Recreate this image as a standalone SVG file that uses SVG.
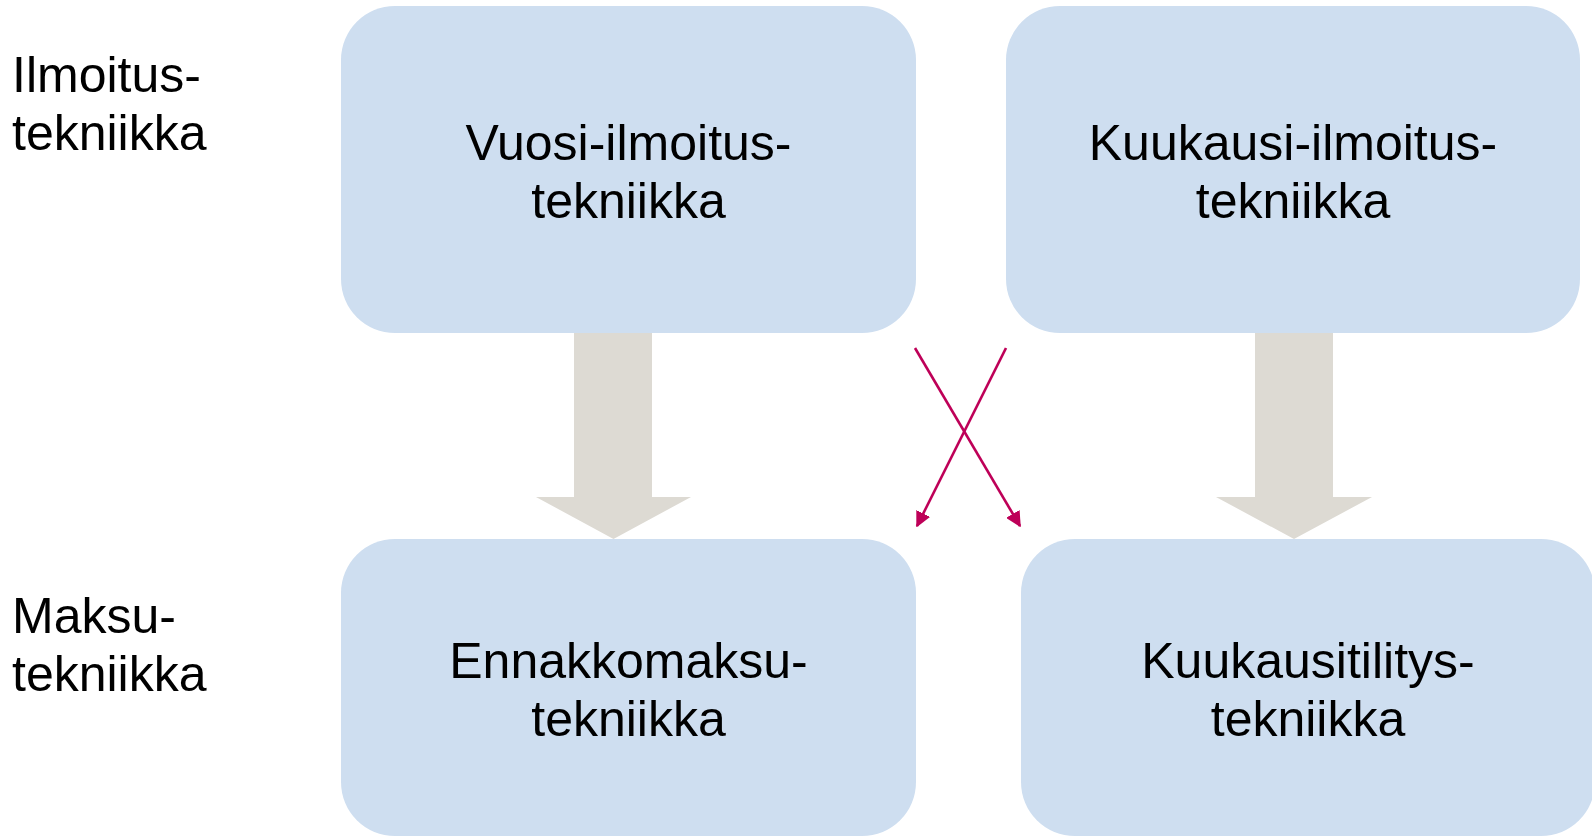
<svg xmlns="http://www.w3.org/2000/svg" width="1592" height="837" viewBox="0 0 1592 837">
<defs>
<style>
.box{fill:#CEDEF0;}
.t{font-family:"Liberation Sans",Arial,sans-serif;font-size:50px;fill:#000;}
.c{text-anchor:middle;}
.big{fill:#DDDAD3;}
.red{stroke:#BE0058;stroke-width:2.6;fill:none;}
</style>
<marker id="ah" viewBox="0 0 10 10" refX="9" refY="5" markerWidth="6" markerHeight="6" markerUnits="strokeWidth" orient="auto">
<path d="M0,0 L10,5 L0,10 z" fill="#BE0058"/>
</marker>
</defs>
<rect width="1592" height="837" fill="#FFFFFF"/>
<g id="labels">
<text class="t" x="12" y="92">Ilmoitus-</text>
<text class="t" x="12" y="150">tekniikka</text>
<text class="t" x="12" y="633">Maksu-</text>
<text class="t" x="12" y="691">tekniikka</text>
</g>
<g id="connectors">
<path class="big" d="M574,333 H652 V497 H691 L613.5,539 L536,497 H574 Z"/>
<path class="big" d="M1255,333 H1333 V497 H1372 L1294,539 L1216,497 H1255 Z"/>
<line class="red" x1="915" y1="348" x2="1020" y2="526" marker-end="url(#ah)"/>
<line class="red" x1="1006" y1="348" x2="917" y2="526" marker-end="url(#ah)"/>
</g>
<g id="node-vuosi">
<rect class="box" x="341" y="6" width="575" height="327" rx="54" ry="54"/>
<text class="t c" x="628.5" y="160">Vuosi-ilmoitus-</text>
<text class="t c" x="628.5" y="218">tekniikka</text>
</g>
<g id="node-kuukausi-ilmoitus">
<rect class="box" x="1006" y="6" width="574" height="327" rx="54" ry="54"/>
<text class="t c" x="1293" y="160">Kuukausi-ilmoitus-</text>
<text class="t c" x="1293" y="218">tekniikka</text>
</g>
<g id="node-ennakko">
<rect class="box" x="341" y="539" width="575" height="297" rx="54" ry="54"/>
<text class="t c" x="628.5" y="678">Ennakkomaksu-</text>
<text class="t c" x="628.5" y="736">tekniikka</text>
</g>
<g id="node-kuukausitilitys">
<rect class="box" x="1021" y="539" width="574" height="297" rx="54" ry="54"/>
<text class="t c" x="1308" y="678">Kuukausitilitys-</text>
<text class="t c" x="1308" y="736">tekniikka</text>
</g>
</svg>
